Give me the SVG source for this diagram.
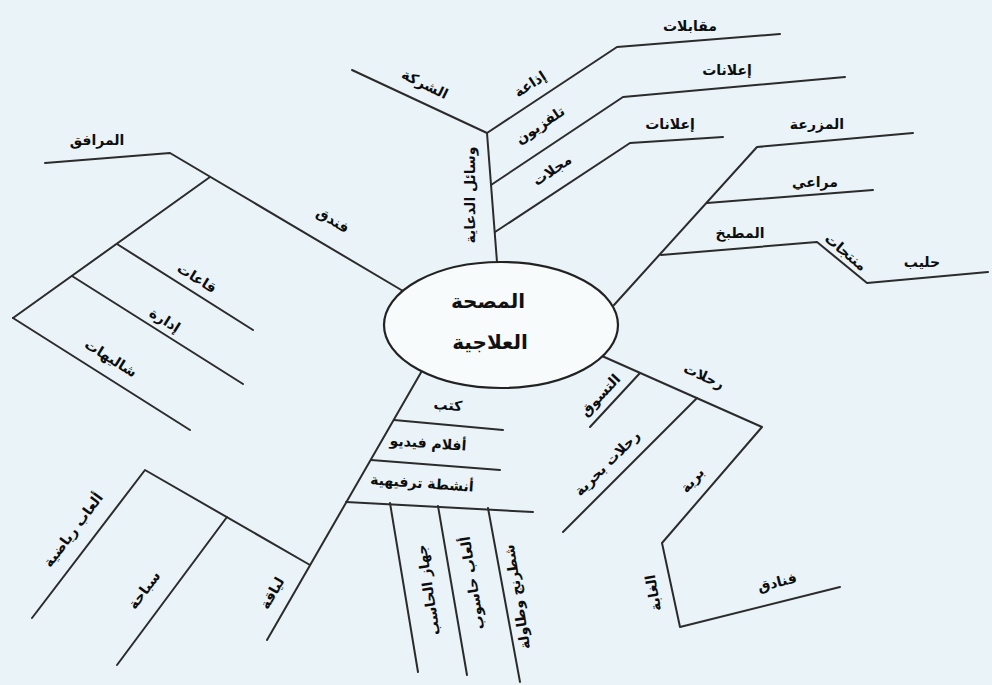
<svg xmlns="http://www.w3.org/2000/svg" width="992" height="685" viewBox="0 0 992 685">
<style>
.bg{fill:#e9f3f8}
.ln{fill:none;stroke:#2b2b2b;stroke-width:2;stroke-linejoin:round;stroke-linecap:round}
.lb{font-family:"DejaVu Sans","Noto Sans",sans-serif;font-size:14px;font-weight:bold;fill:#0d0d0d;text-anchor:middle;dominant-baseline:central}
.ct{font-family:"DejaVu Sans","Noto Sans",sans-serif;font-size:20px;font-weight:bold;fill:#111;text-anchor:middle;dominant-baseline:central}
</style>
<rect class="bg" x="0" y="0" width="992" height="685"/>
<g id="connectors">
<path class="ln" d="M497,262 L487,133"/>
<path class="ln" d="M487,133 L352,70"/>
<path class="ln" d="M487,133 L617,47 L780,34"/>
<path class="ln" d="M491,185 L623,97 L845,77"/>
<path class="ln" d="M495,232 L630,143 L723,137"/>
<path class="ln" d="M614,305 L757,147 L913,133"/>
<path class="ln" d="M707,203 L873,190"/>
<path class="ln" d="M661,255 L817,242 L867,283 L988,272"/>
<path class="ln" d="M403,291 L170,153 L45,163"/>
<path class="ln" d="M210,177 L13,318"/>
<path class="ln" d="M117,244 L253,330"/>
<path class="ln" d="M72,276 L243,384"/>
<path class="ln" d="M13,318 L190,430"/>
<path class="ln" d="M423,369 L267,640"/>
<path class="ln" d="M310,565 L145,470 L32,618"/>
<path class="ln" d="M227,517 L117,665"/>
<path class="ln" d="M394,420 L503,430"/>
<path class="ln" d="M371,460 L500,470"/>
<path class="ln" d="M346,502 L533,512"/>
<path class="ln" d="M390,503 L418,672"/>
<path class="ln" d="M438,506 L467,675"/>
<path class="ln" d="M488,508 L520,682"/>
<path class="ln" d="M602,356 L762,427 L662,543 L680,627 L840,587"/>
<path class="ln" d="M640,373 L590,427"/>
<path class="ln" d="M697,398 L563,532"/>
</g>
<g id="center">
<ellipse cx="501" cy="325" rx="117" ry="63" fill="#f8fbfc" stroke="#222" stroke-width="2.2"/>
<text class="ct" x="488" y="301">المصحة</text>
<text class="ct" x="490" y="342">العلاجية</text>
</g>
<g id="n-media"><text class="lb" transform="translate(470,195) rotate(-90)">وسائل الدعاية</text></g>
<g id="n-company"><text class="lb" transform="translate(425,84) rotate(26)">الشركة</text></g>
<g id="n-radio"><text class="lb" transform="translate(530,84) rotate(-33)">إذاعة</text></g>
<g id="n-tv"><text class="lb" transform="translate(540,125) rotate(-34)">تلفزيون</text></g>
<g id="n-mag"><text class="lb" transform="translate(552,170) rotate(-34)">مجلات</text></g>
<g id="n-interviews"><text class="lb" x="690" y="26">مقابلات</text></g>
<g id="n-ads1"><text class="lb" x="727" y="70">إعلانات</text></g>
<g id="n-ads2"><text class="lb" x="670" y="124">إعلانات</text></g>
<g id="n-farm"><text class="lb" x="817" y="124">المزرعة</text></g>
<g id="n-pasture"><text class="lb" x="815" y="182">مراعي</text></g>
<g id="n-kitchen"><text class="lb" x="740" y="233">المطبخ</text></g>
<g id="n-products"><text class="lb" transform="translate(846,252) rotate(40)">منتجات</text></g>
<g id="n-milk"><text class="lb" x="922" y="262">حليب</text></g>
<g id="n-facilities"><text class="lb" x="97" y="140">المرافق</text></g>
<g id="n-hotel"><text class="lb" transform="translate(333,220) rotate(31)">فندق</text></g>
<g id="n-halls"><text class="lb" transform="translate(197,278) rotate(32)">قاعات</text></g>
<g id="n-admin"><text class="lb" transform="translate(165,320) rotate(32)">إدارة</text></g>
<g id="n-chalets"><text class="lb" transform="translate(111,358) rotate(32)">شاليهات</text></g>
<g id="n-books"><text class="lb" transform="translate(448,405) rotate(4)">كتب</text></g>
<g id="n-films"><text class="lb" transform="translate(428,443) rotate(4)">أفلام فيديو</text></g>
<g id="n-leisure"><text class="lb" transform="translate(422,483) rotate(4)">أنشطة ترفيهية</text></g>
<g id="n-col1"><text class="lb" transform="translate(428,590) rotate(-99)">جهاز الحاسب</text></g>
<g id="n-col2"><text class="lb" transform="translate(472,583) rotate(-99)">ألعاب حاسوب</text></g>
<g id="n-col3"><text class="lb" transform="translate(517,597) rotate(-99)">شطرنج وطاولة</text></g>
<g id="n-fitness"><text class="lb" transform="translate(272,593) rotate(-60)">لياقة</text></g>
<g id="n-sports"><text class="lb" transform="translate(73,530) rotate(-53)">ألعاب رياضية</text></g>
<g id="n-swim"><text class="lb" transform="translate(144,590) rotate(-53)">سباحة</text></g>
<g id="n-trips"><text class="lb" transform="translate(704,376) rotate(24)">رحلات</text></g>
<g id="n-shopping"><text class="lb" transform="translate(600,395) rotate(-47)">التسوق</text></g>
<g id="n-sea"><text class="lb" transform="translate(607,463) rotate(-45)">رحلات بحرية</text></g>
<g id="n-land"><text class="lb" transform="translate(692,480) rotate(-49)">برية</text></g>
<g id="n-forest"><text class="lb" transform="translate(653,593) rotate(-100)">الغابة</text></g>
<g id="n-hotels"><text class="lb" transform="translate(777,582) rotate(-14)">فنادق</text></g>
</svg>
